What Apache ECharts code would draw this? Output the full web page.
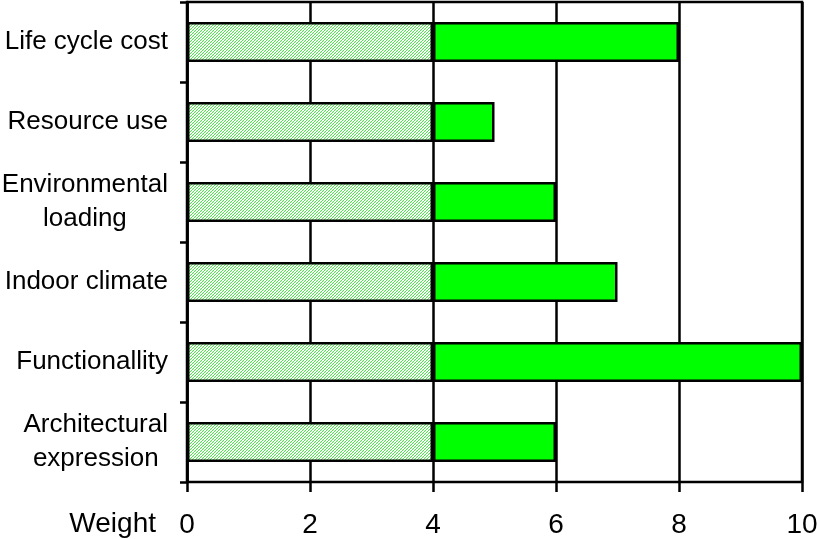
<!DOCTYPE html>
<html>
<head>
<meta charset="utf-8">
<script src="https://cdn.jsdelivr.net/npm/echarts@6/dist/echarts.min.js"></script>
<style>
  html, body { margin: 0; padding: 0; background: #fff; }
  #chart { width: 820px; height: 539px; }
</style>
</head>
<body>
<div id="chart"></div>
<script>
// criteria, top to bottom
const categories = ['Life cycle cost', 'Resource use', 'Environmental\nloading', 'Indoor climate', 'Functionallity', 'Architectural\nexpression'];
// hatched part of each bar
const baseWeights = [4, 4, 4, 4, 4, 4];
// solid green part on top of it
const extraWeights = [4, 1, 2, 3, 6, 2];
const xTicks = [0, 2, 4, 6, 8, 10];

// small diagonal hatch tile
function makeHatch() {
  const c = document.createElement('canvas');
  c.width = 3;
  c.height = 3;
  const ctx = c.getContext('2d');
  ctx.fillStyle = '#ffffff';
  ctx.fillRect(0, 0, 3, 3);
  ctx.fillStyle = '#3cf03c';
  for (let x = 0; x < 3; x++) {
    for (let y = 0; y < 3; y++) {
      if ((x + y) % 3 === 0) ctx.fillRect(x, y, 1, 1);
    }
  }
  return c;
}

const chart = echarts.init(document.getElementById('chart'));
const font = "'Liberation Sans', Arial, sans-serif";

const option = {
  animation: false,
  grid: {
    left: 187, right: 18, top: 2, bottom: 57,
    containLabel: false,
    outerBoundsMode: 'none',
    show: true, borderColor: '#000', borderWidth: 2.5
  },
  graphic: [
    {
      type: 'text',
      x: 156,
      y: 510,
      style: { text: 'Weight', fill: '#000', fontSize: 28, fontFamily: font, textAlign: 'right' }
    }
  ],
  xAxis: {
    type: 'value',
    min: xTicks[0],
    max: xTicks[xTicks.length - 1],
    interval: 2,
    axisLine: { lineStyle: { color: '#000', width: 2.5 } },
    axisTick: { show: true, length: 10, lineStyle: { color: '#000', width: 2.5 } },
    axisLabel: { color: '#000', fontSize: 28, fontFamily: font, margin: 29 },
    splitLine: { show: true, lineStyle: { color: '#000', width: 2.5 } }
  },
  yAxis: {
    type: 'category',
    inverse: true,
    data: categories,
    axisLine: { lineStyle: { color: '#000', width: 2.5 } },
    axisTick: { show: true, length: 7, lineStyle: { color: '#000', width: 2.5 } },
    axisLabel: {
      color: '#000', fontSize: 26, fontFamily: font, margin: 19, align: 'right',
      // centre the lines of two-line labels under each other
      formatter: v => v.split('\n').map(l => '{c|' + l + '}').join('\n'),
      rich: { c: { align: 'center', fontSize: 26, fontFamily: font, color: '#000', lineHeight: 34 } }
    },
    splitLine: { show: false }
  },
  series: [
    {
      type: 'bar',
      stack: 'w',
      barWidth: 40,
      data: baseWeights,
      itemStyle: {
        color: { image: makeHatch(), repeat: 'repeat' },
        borderColor: '#000',
        borderWidth: 2.5
      }
    },
    {
      type: 'bar',
      stack: 'w',
      barWidth: 40,
      data: extraWeights,
      itemStyle: { color: '#00ff00', borderColor: '#000', borderWidth: 2.5 }
    }
  ]
};

chart.setOption(option);
</script>
</body>
</html>
